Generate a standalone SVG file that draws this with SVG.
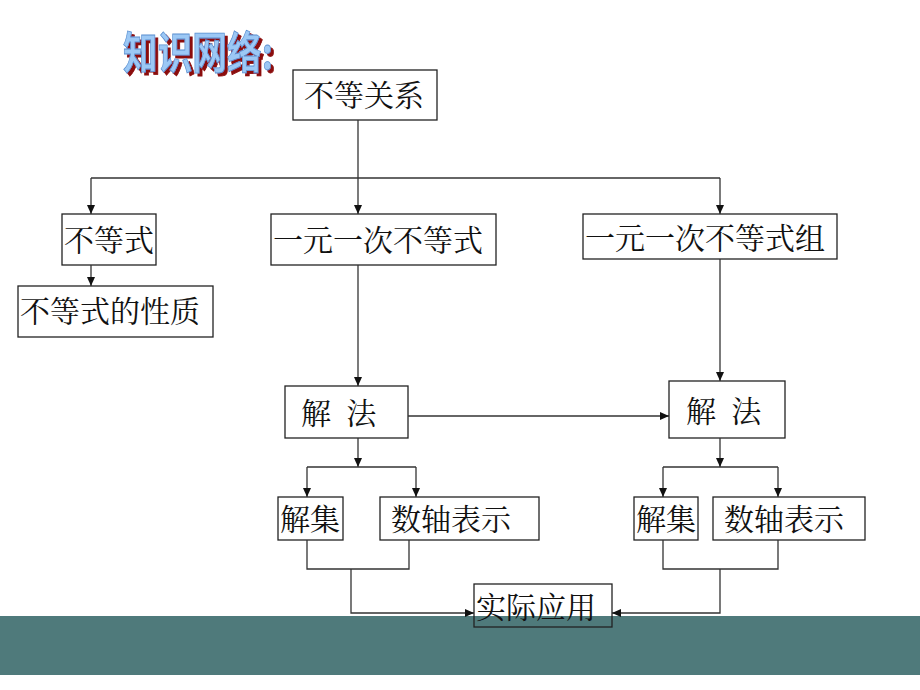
<svg xmlns="http://www.w3.org/2000/svg" width="920" height="690" viewBox="0 0 920 690">
<style>
.b{fill:none;stroke:#222;stroke-width:1.3}
.t{font-family:"Noto Serif CJK SC","Noto Sans CJK SC",serif;font-size:30px;fill:#111}
.c{fill:none;stroke:#333;stroke-width:1.3}
.ti{font-family:"Noto Sans CJK SC",sans-serif;font-size:44px;font-weight:bold}
</style>
<defs><marker id="a" markerWidth="10" markerHeight="10" refX="9" refY="5" orient="auto" markerUnits="userSpaceOnUse"><path d="M0,1 L9,5 L0,9z" fill="#111"/></marker>
<filter id="sh" x="-5%" y="-10%" width="115%" height="130%"><feDropShadow dx="3" dy="3" stdDeviation="0" flood-color="#8b1010"/></filter></defs>
<rect width="920" height="690" fill="#fff"/>
<rect x="0" y="616" width="920" height="59" fill="#4f7a7b"/>
<text class="ti" x="123" y="69" fill="#9cc8f5" stroke="#5a8fd0" stroke-width="0.8" filter="url(#sh)" textLength="150" lengthAdjust="spacingAndGlyphs">知识网络:</text>
<g id="n1"><rect class="b" x="293" y="70" width="144" height="50"/><text class="t" x="304" y="106">不等关系</text></g>
<g id="n2"><rect class="b" x="62" y="214" width="94" height="51"/><text class="t" x="64" y="251">不等式</text></g>
<g id="n3"><rect class="b" x="271" y="214" width="225" height="51"/><text class="t" x="273" y="251">一元一次不等式</text></g>
<g id="n4"><rect class="b" x="583" y="214" width="254" height="45"/><text class="t" x="585" y="249">一元一次不等式组</text></g>
<g id="n5"><rect class="b" x="18" y="286" width="195" height="51"/><text class="t" x="20" y="322">不等式的性质</text></g>
<g id="n6"><rect class="b" x="285" y="386" width="123" height="52"/><text class="t" x="301" y="424" xml:space="preserve">解  法</text></g>
<g id="n7"><rect class="b" x="669" y="381" width="116" height="57"/><text class="t" x="686" y="422" xml:space="preserve">解  法</text></g>
<g id="n8"><rect class="b" x="278" y="497" width="65" height="43"/><text class="t" x="280" y="530">解集</text></g>
<g id="n9"><rect class="b" x="380" y="497" width="159" height="43"/><text class="t" x="391" y="530">数轴表示</text></g>
<g id="n10"><rect class="b" x="634" y="497" width="64" height="43"/><text class="t" x="636" y="530">解集</text></g>
<g id="n11"><rect class="b" x="713" y="497" width="152" height="43"/><text class="t" x="724" y="530">数轴表示</text></g>
<g id="n12"><rect class="b" x="474" y="584" width="138" height="43"/><text class="t" x="476" y="618">实际应用</text></g>
<g id="connectors">
<path class="c" d="M358,120 V214" marker-end="url(#a)"/>
<path class="c" d="M91,178 H720"/>
<path class="c" d="M91,178 V214" marker-end="url(#a)"/>
<path class="c" d="M720,178 V214" marker-end="url(#a)"/>
<path class="c" d="M91,265 V286" marker-end="url(#a)"/>
<path class="c" d="M358,265 V386" marker-end="url(#a)"/>
<path class="c" d="M720,259 V381" marker-end="url(#a)"/>
<path class="c" d="M408,416 H669" marker-end="url(#a)"/>
<path class="c" d="M358,438 V467" marker-end="url(#a)"/>
<path class="c" d="M307,467 H416"/>
<path class="c" d="M307,467 V497" marker-end="url(#a)"/>
<path class="c" d="M416,467 V497" marker-end="url(#a)"/>
<path class="c" d="M307,540 V569 H409 V540"/>
<path class="c" d="M351,569 V613 H474" marker-end="url(#a)"/>
<path class="c" d="M720,438 V467" marker-end="url(#a)"/>
<path class="c" d="M663,467 H778"/>
<path class="c" d="M663,467 V497" marker-end="url(#a)"/>
<path class="c" d="M778,467 V497" marker-end="url(#a)"/>
<path class="c" d="M663,540 V569 H778 V540"/>
<path class="c" d="M720,569 V613 H612" marker-end="url(#a)"/>
</g>
</svg>
